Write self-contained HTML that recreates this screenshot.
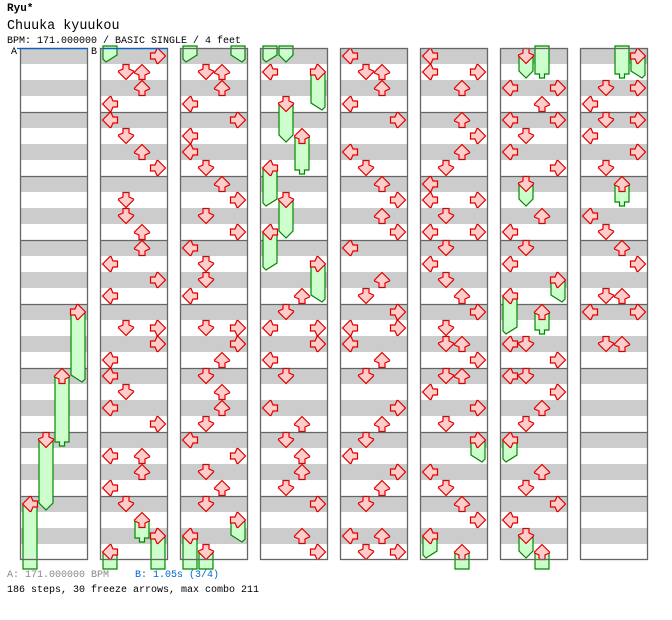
<!DOCTYPE html>
<html><head><meta charset="utf-8"><style>
body{margin:0;background:#fff;width:672px;height:620px;overflow:hidden;position:relative;font-family:"Liberation Mono",monospace}
.t{position:absolute;white-space:pre;line-height:1;z-index:2}
</style></head><body>
<div class="t" style="left:7px;top:4px;font-size:11px;font-weight:bold">Ryu*</div>
<div class="t" style="left:7px;top:20px;font-size:13.4px">Chuuka kyuukou</div>
<div class="t" style="left:7px;top:37px;font-size:10px">BPM: 171.000000 / BASIC SINGLE / 4 feet</div>
<div class="t" style="left:11px;top:48px;font-size:10px">A</div>
<div class="t" style="left:91px;top:48px;font-size:10px">B</div>
<div class="t" style="left:7px;top:571px;font-size:10px;color:#888">A: 171.000000 BPM</div>
<div class="t" style="left:135px;top:571px;font-size:10px;color:#0066cc">B: 1.05s (3/4)</div>
<div class="t" style="left:7px;top:586px;font-size:10px">186 steps, 30 freeze arrows, max combo 211</div>
<svg id="s" width="672" height="620" style="position:absolute;left:0;top:0" xmlns="http://www.w3.org/2000/svg"></svg>
<script>
var taps=[
".".repeat(32).split(""),
"R DU U L L D U R . D D U U L R L . DR R L L D L R . LU U L D . . .".split(" "),
". DU U L R L L D U R D R L D D L . DR R U D U U D L R D U D . . .".split(" "),
". L . . . . . . . . . . . . . U D LR R L D . L U D U U D R . U R".split(" "),
"L DU U L R . L D U R U R L . U D R LR L U D . R U D L R U D . LU DR".split(" "),
"L LR U . U R U D L LR D LR D L D U R D DU R DU L R D . . L D U R . .".split(" "),
". . LR U LR D L R . . U L D L . . . . LD R LD R U D . . U D R L . .".split(" "),
". . DR L DR L R D . . L D U R . DU LR . DU . . . . . . . . . . . . .".split(" ")];
var fr=[[[16,3,20],[20,2,24],[24,1,28],[28,0,32]],
[[29,2,30],[30,3,32],[31,0,32]],
[[29,3,30],[30,0,32],[31,1,32]],
[[1,3,3],[3,1,5],[5,2,7],[7,0,9],[9,1,11],[11,0,13],[13,3,15]],
[],
[[24,3,25],[30,0,31],[31,2,33]],
[[0,1,1],[8,1,9],[14,3,15],[15,0,17],[16,2,17],[24,0,25],[30,1,31],[31,2,33]],
[[0,3,1],[8,2,9]]];
var out=[];
function cx(c,l){return 20+80*c+10+16*l;}
var up="0,-7.5 7.5,0 7.5,1 3,3 3,7.5 -3,7.5 -3,3 -7.5,1 -7.5,0";
var rot={L:-90,D:180,U:0,R:90},ln={L:0,D:1,U:2,R:3};
function arrow(x,y,d){out.push('<polygon points="'+up+'" transform="translate('+x+','+y+') rotate('+rot[d]+')" fill="#ffcccc" stroke="#dd0000" stroke-width="1.2" stroke-linejoin="miter"/>');}
function body(x,y1,yb,l,tail){var xl=x-7,xr=x+7,p;
 if(!tail){p=[[xl,y1],[xr,y1],[xr,yb],[xl,yb]];}
 else if(l==1)p=[[xl,y1],[xr,y1],[xr,yb-7],[x,yb],[xl,yb-7]];
 else if(l==2)p=[[xl,y1],[xr,y1],[xr,yb-4],[x+2.5,yb-4],[x+2.5,yb],[x-2.5,yb],[x-2.5,yb-4],[xl,yb-4]];
 else if(l==0)p=[[xl,y1],[xr,y1],[xr,yb-7],[xl+3,yb],[xl,yb-3]];
 else p=[[xl,y1],[xr,y1],[xr,yb-3],[xr-3,yb],[xl,yb-7]];
 out.push('<polygon points="'+p.map(function(a){return a.join(",")}).join(" ")+'" fill="#ccffcc" stroke="#008800" stroke-width="1.2"/>');}
var L="LDUR";
for(var c=0;c<8;c++){var x0=20+80*c;
 for(var r=0;r<32;r+=2)out.push('<rect x="'+x0+'" y="'+(48+r*16)+'" width="68" height="16" fill="#cccccc"/>');
 for(var m=1;m<8;m++)out.push('<line x1="'+x0+'" x2="'+(x0+68)+'" y1="'+(48.5+m*64)+'" y2="'+(48.5+m*64)+'" stroke="#666" stroke-width="1.3"/>');}
for(var c=0;c<8;c++){fr[c].forEach(function(f){var x=cx(c,f[1]);var y1=48+f[0]*16+8;
  if(f[2]>=32){body(x,y1,569,f[1],false);var e=f[2]-32;body(cx(c+1,f[1]),46,48+(e+1)*16-2,f[1],true);}
  else body(x,y1,48+(f[2]+1)*16-2,f[1],true);});}
for(var c=0;c<8;c++){fr[c].forEach(function(f){arrow(cx(c,f[1]),48+f[0]*16+8,L[f[1]]);});
 taps[c].forEach(function(s,r){if(s==".")return;for(var i=0;i<s.length;i++)arrow(cx(c,ln[s[i]]),48+r*16+8,s[i]);});}
for(var c=0;c<8;c++){var x0=20+80*c;out.push('<rect x="'+(x0+0.5)+'" y="48.5" width="67" height="511" fill="none" stroke="#666" stroke-width="1.3"/>');}
out.push('<line x1="17" x2="88" y1="48.5" y2="48.5" stroke="#0066cc" stroke-width="1.3"/><line x1="103" x2="168" y1="48.5" y2="48.5" stroke="#0066cc" stroke-width="1.3"/>');
document.getElementById("s").innerHTML=out.join("");
</script>
</body></html>
